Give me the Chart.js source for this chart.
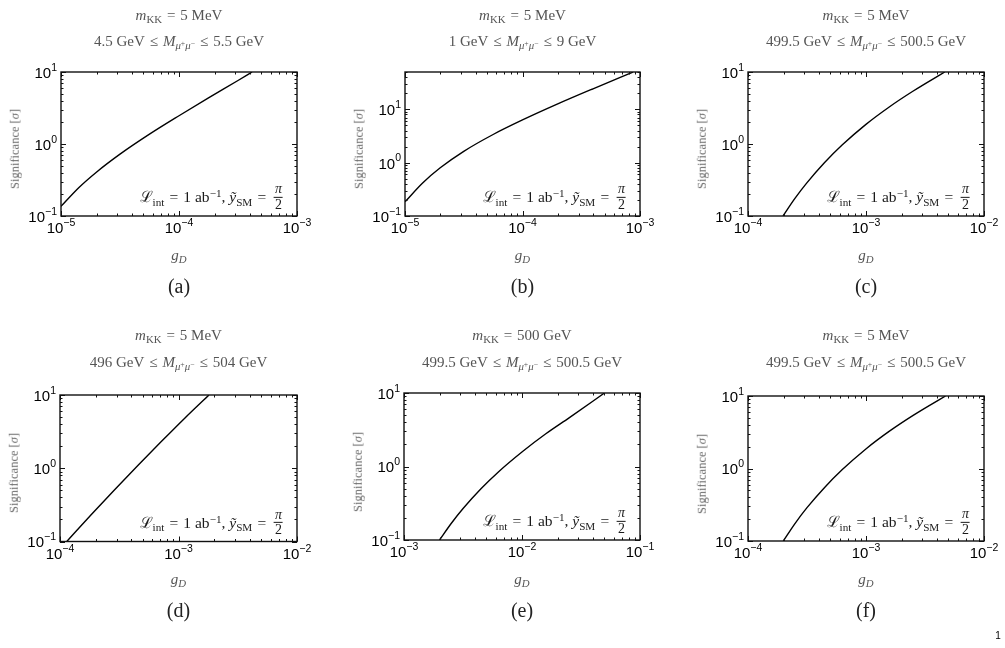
<!DOCTYPE html>
<html><head><meta charset="utf-8">
<script src="https://cdn.jsdelivr.net/npm/chart.js@4.4.1/dist/chart.umd.min.js"></script>
<style>
html,body{margin:0;padding:0;background:#fff;}
#wrap{position:relative;width:1005px;height:648px;overflow:hidden;background:#fff;}
canvas.pc{position:absolute;left:0;top:0;}
.t{position:absolute;white-space:nowrap;transform:translate(-50%,-50%);font-family:"Liberation Serif","DejaVu Serif",serif;color:#555;line-height:1;}
.ttl{font-size:15px;}
.yl{font-size:12.5px;color:#6a6a6a;font-weight:normal;transform:translate(-50%,-50%) rotate(-90deg);}
.gl{font-size:15px;}
.cap{font-size:20px;color:#222;}
.ann{position:absolute;white-space:nowrap;font-family:"Liberation Serif","DejaVu Serif",serif;color:#1a1a1a;font-size:15.5px;line-height:1;display:flex;align-items:center;transform:translate(-100%,-50%);}
.sb{position:relative;top:0.3em;font-size:72%;}
.sp{position:relative;top:-0.45em;font-size:72%;}
.rel{margin:0 0.33em;}
.frac{display:inline-flex;flex-direction:column;align-items:center;margin-left:0.2em;font-size:90%;}
.frac span{display:block;padding:0 1px;line-height:1.05;}
.frac .num{border-bottom:0.8px solid #1a1a1a;}
</style></head>
<body>
<div id="wrap"></div>
<script>
// ---- data (g_D values and significance values) ----
const gA   = [1e-5, 1.413e-5, 1.995e-5, 3.162e-5, 5.623e-5, 1e-4, 1.778e-4, 3.162e-4, 4.16e-4];
const sigA = [0.136, 0.247, 0.406, 0.723, 1.37, 2.47, 4.37, 7.62, 10];

const gB   = [1e-5, 1.413e-5, 1.995e-5, 3.162e-5, 5.623e-5, 1e-4, 1.995e-4, 3.981e-4, 8.71e-4];
const sigB = [0.184, 0.416, 0.80, 1.63, 3.37, 6.31, 12.6, 24.2, 49.7];

const gC   = [1.98e-4, 2.49e-4, 3.14e-4, 4.44e-4, 6.27e-4, 9.93e-4, 1.574e-3, 2.495e-3, 4.65e-3];
const sigC = [0.1, 0.174, 0.286, 0.548, 0.966, 1.86, 3.27, 5.40, 10];

const gD   = [1.14e-4, 1.807e-4, 2.864e-4, 4.539e-4, 7.194e-4, 1.140e-3, 1.807e-3];
const sigD = [0.1, 0.226, 0.501, 1.09, 2.33, 4.90, 10];

const gE   = [2.0e-3, 2.52e-3, 3.18e-3, 4.49e-3, 6.34e-3, 1.005e-2, 1.592e-2, 2.523e-2, 5.0e-2];
const sigE = [0.1, 0.169, 0.270, 0.498, 0.851, 1.59, 2.79, 4.63, 10];

const gF   = [1.99e-4, 2.50e-4, 3.15e-4, 4.46e-4, 6.30e-4, 9.98e-4, 1.58e-3, 2.51e-3, 4.72e-3];
const sigF = [0.1, 0.174, 0.286, 0.548, 0.966, 1.86, 3.27, 5.40, 10];

// axis ranges
const xRangeA = [1e-5, 1e-3], yRangeA = [0.1, 10];
const xRangeB = [1e-5, 1e-3], yRangeB = [0.1, 50];
const xRangeC = [1e-4, 1e-2], yRangeC = [0.1, 10];
const xRangeD = [1e-4, 1e-2], yRangeD = [0.1, 10];
const xRangeE = [1e-3, 1e-1], yRangeE = [0.1, 10];
const xRangeF = [1e-4, 1e-2], yRangeF = [0.1, 10];

// text
const mKK   = ['5 MeV', '5 MeV', '5 MeV', '5 MeV', '500 GeV', '5 MeV'];
const mLow  = ['4.5 GeV', '1 GeV', '499.5 GeV', '496 GeV', '499.5 GeV', '499.5 GeV'];
const mHigh = ['5.5 GeV', '9 GeV', '500.5 GeV', '504 GeV', '500.5 GeV', '500.5 GeV'];
const captions = ['(a)', '(b)', '(c)', '(d)', '(e)', '(f)'];

// ---- layout (pixel positions of each panel) ----
const boxes = [
  {L:61,  T:72,  R:297, B:216,   t1:15,  t2:41,  gy:255, cy:286},
  {L:405, T:72,  R:640, B:216,   t1:15,  t2:41,  gy:255, cy:286},
  {L:748, T:72,  R:984, B:216,   t1:15,  t2:41,  gy:255, cy:286},
  {L:60,  T:395, R:297, B:541.5, t1:335, t2:362, gy:579, cy:610},
  {L:404, T:393, R:640, B:540,   t1:335, t2:362, gy:579, cy:610},
  {L:748, T:396, R:984, B:541,   t1:335, t2:362, gy:579, cy:610},
];

const series = [[gA,sigA],[gB,sigB],[gC,sigC],[gD,sigD],[gE,sigE],[gF,sigF]];
const xr = [xRangeA,xRangeB,xRangeC,xRangeD,xRangeE,xRangeF];
const yr = [yRangeA,yRangeB,yRangeC,yRangeD,yRangeE,yRangeF];

const W = 1005, H = 648;
const wrap = document.getElementById('wrap');

function sup(n){ return n < 0 ? '\u2212' + (-n) : String(n); }

const framePlugin = {
  id: 'frame',
  afterDatasetsDraw(chart) {
    const ctx = chart.ctx, a = chart.chartArea;
    const xs = chart.scales.x, ys = chart.scales.y;
    ctx.save();
    ctx.strokeStyle = '#111';
    ctx.lineWidth = 1;
    const tickSet = (sc, horiz) => {
      const lo = Math.floor(Math.log10(sc.min) + 1e-9), hi = Math.ceil(Math.log10(sc.max) - 1e-9);
      for (let d = lo; d <= hi; d++) {
        for (let m = 1; m <= 9; m++) {
          const v = m * Math.pow(10, d);
          if (v < sc.min * 0.999 || v > sc.max * 1.001) continue;
          const p = Math.round(sc.getPixelForValue(v)) + 0.5;
          const len = m === 1 ? 5 : 2.5;
          ctx.beginPath();
          if (horiz) {
            ctx.moveTo(p, a.bottom); ctx.lineTo(p, a.bottom - len);
            ctx.moveTo(p, a.top); ctx.lineTo(p, a.top + len);
          } else {
            ctx.moveTo(a.left, p); ctx.lineTo(a.left + len, p);
            ctx.moveTo(a.right, p); ctx.lineTo(a.right - len, p);
          }
          ctx.stroke();
        }
      }
    };
    tickSet(xs, true);
    tickSet(ys, false);
    ctx.lineWidth = 1.4;
    ctx.strokeRect(a.left, a.top, a.right - a.left, a.bottom - a.top);

    // decade labels
    const baseFont = '15px "Liberation Sans", Arial, sans-serif';
    const expFont = '10.5px "Liberation Sans", Arial, sans-serif';
    ctx.fillStyle = '#000';
    ctx.textBaseline = 'alphabetic';
    ctx.textAlign = 'left';
    const decs = sc => {
      const out = [];
      const lo = Math.ceil(Math.log10(sc.min) - 1e-9), hi = Math.floor(Math.log10(sc.max) + 1e-9);
      for (let d = lo; d <= hi; d++) out.push(d);
      return out;
    };
    decs(xs).forEach(d => {
      const px = xs.getPixelForValue(Math.pow(10, d));
      ctx.font = baseFont; const w1 = ctx.measureText('10').width;
      ctx.font = expFont; const w2 = ctx.measureText(sup(d)).width;
      const x0 = px - (w1 + w2) / 2;
      ctx.font = baseFont; ctx.fillText('10', x0, a.bottom + 12 + 5.4);
      ctx.font = expFont; ctx.fillText(sup(d), x0 + w1, a.bottom + 6.3 + 3.8);
    });
    decs(ys).forEach(d => {
      const py = ys.getPixelForValue(Math.pow(10, d));
      ctx.font = baseFont; const w1 = ctx.measureText('10').width;
      ctx.font = expFont; const w2 = ctx.measureText(sup(d)).width;
      const x0 = a.left - 4 - w1 - w2;
      ctx.font = baseFont; ctx.fillText('10', x0, py + 0.5 + 5.4);
      ctx.font = expFont; ctx.fillText(sup(d), x0 + w1, py - 5 + 3.8);
    });
    ctx.restore();
  }
};

function addDiv(cls, html, x, y) {
  const d = document.createElement('div');
  d.className = cls;
  d.innerHTML = html;
  d.style.left = x + 'px';
  d.style.top = y + 'px';
  wrap.appendChild(d);
  return d;
}

boxes.forEach((b, i) => {
  const cv = document.createElement('canvas');
  cv.className = 'pc'; cv.width = W; cv.height = H;
  wrap.appendChild(cv);
  const [gs, ss] = series[i];
  new Chart(cv, {
    type: 'line',
    data: { datasets: [{
      data: gs.map((g, k) => ({ x: g, y: ss[k] })),
      borderColor: '#000', borderWidth: 1.4, pointRadius: 0, fill: false,
      cubicInterpolationMode: 'monotone', clip: 0
    }]},
    options: {
      responsive: false, animation: false, events: [],
      layout: { padding: { left: b.L, top: b.T, right: W - b.R, bottom: H - b.B } },
      plugins: { legend: { display: false }, tooltip: { enabled: false } },
      scales: {
        x: { type: 'logarithmic', min: xr[i][0], max: xr[i][1],
             ticks: { display: false }, grid: { display: false, drawTicks: false }, border: { display: false } },
        y: { type: 'logarithmic', min: yr[i][0], max: yr[i][1],
             ticks: { display: false }, grid: { display: false, drawTicks: false }, border: { display: false } }
      }
    },
    plugins: [framePlugin]
  });

  const cx = (b.L + b.R) / 2;
  addDiv('t ttl', '<i>m</i><span class="sb">KK</span><span class="rel">=</span>' + mKK[i], cx, b.t1);
  addDiv('t ttl', mLow[i] + '<span class="rel">\u2264</span><i>M</i><span class="sb"><i>\u03bc</i><span class="sp">+</span><i>\u03bc</i><span class="sp">\u2212</span></span><span class="rel">\u2264</span>' + mHigh[i], cx, b.t2);
  addDiv('t yl', 'Significance [<i>\u03c3</i>]', b.L - 46, (b.T + b.B) / 2 + 5);
  addDiv('t gl', '<i>g</i><span class="sb"><i>D</i></span>', cx, b.gy);
  addDiv('t cap', captions[i], cx, b.cy);
  addDiv('ann', '<span>\u2112<span class="sb">int</span><span class="rel">=</span>1 ab<span class="sp">\u22121</span>, <i>\u1ef9</i><span class="sb">SM</span><span class="rel">=</span></span><span class="frac"><span class="num"><i>\u03c0</i></span><span>2</span></span>', b.R - 14, b.B - 19);
});

addDiv('t', '1', 998, 636).style.cssText += 'font-family:"Liberation Sans",sans-serif;font-size:10px;color:#000;';
</script>
</body></html>
